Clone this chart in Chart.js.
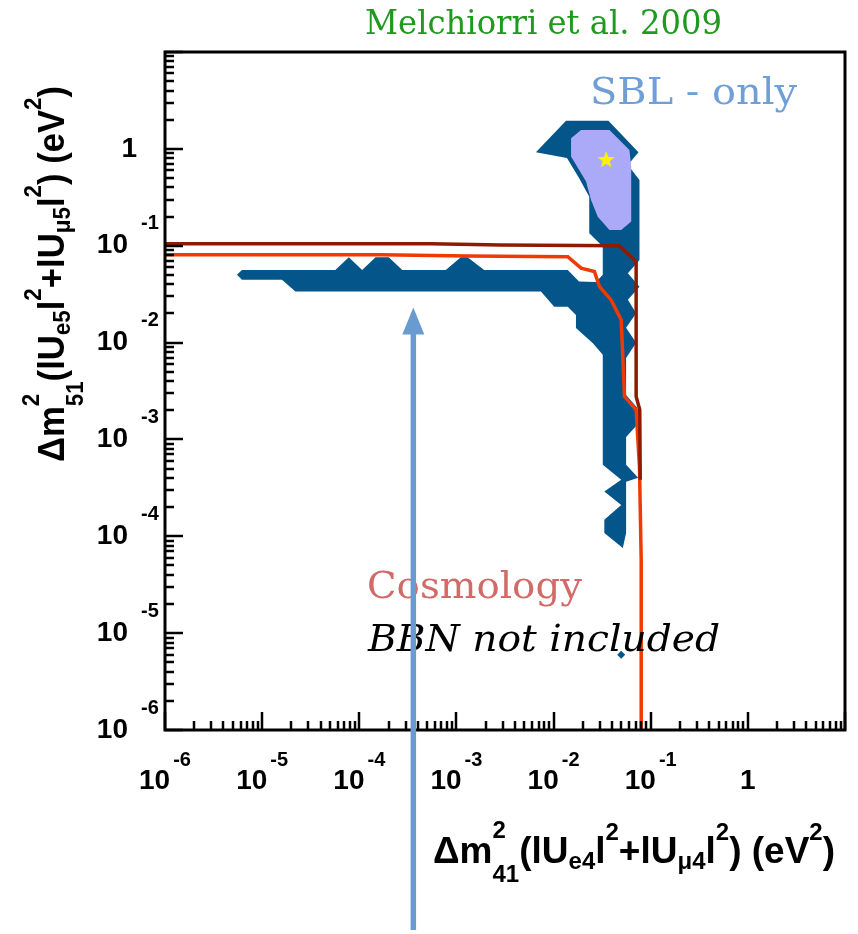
<!DOCTYPE html>
<html>
<head>
<meta charset="utf-8">
<script src="https://cdn.jsdelivr.net/npm/chart.js@4.4.1/dist/chart.umd.min.js"></script>
<style>
  html, body { margin: 0; padding: 0; background: #fff; }
  canvas { display: block; }
</style>
</head>
<body>
<canvas id="chartCanvas" width="858" height="934"></canvas>
<script>
// axis ranges (both log10)
const xRange = [1e-6, 10];
const yRange = [1e-6, 10];

// decade tick labels: [base, exponent]
const xTickValues = [1e-6, 1e-5, 1e-4, 1e-3, 1e-2, 1e-1, 1];
const xTickLabels = [['10', '-6'], ['10', '-5'], ['10', '-4'], ['10', '-3'], ['10', '-2'], ['10', '-1'], ['1', '']];
const yTickValues = [1, 1e-1, 1e-2, 1e-3, 1e-4, 1e-5, 1e-6];
const yTickLabels = [['1', ''], ['10', '-1'], ['10', '-2'], ['10', '-3'], ['10', '-4'], ['10', '-5'], ['10', '-6']];

// SBL-only allowed region (outer, dark blue)
const outerX = [0.01343, 0.0367, 0.0748, 0.0582, 0.0766, 0.0766, 0.0582, 0.0766, 0.0582, 0.0708,
  0.0558, 0.0708, 0.0558, 0.0558, 0.0726, 0.0726, 0.0558, 0.0558, 0.0743, 0.0558,
  0.0558, 0.0516, 0.0333, 0.0333, 0.0497, 0.0333, 0.0497, 0.0321, 0.0321, 0.0254,
  0.0170, 0.0170, 0.0140, 0.01016, 0.00741, 2.2e-5, 1.6e-5, 6.2e-6, 5.5e-6, 6.2e-6,
  5.67e-5, 7.8e-5, 1.07e-4, 1.47e-4, 2.01e-4, 2.77e-4, 7.77e-4, 1.11e-3, 1.30e-3, 1.93e-3,
  0.0140, 0.01828, 0.0274, 0.0321, 0.0321, 0.0233, 0.0233, 0.01828, 0.01374, 0.00658];
const outerY = [1.954, 1.954, 0.922, 0.682, 0.478, 0.0714, 0.0520, 0.0378, 0.0276, 0.0201,
  0.0142, 0.00993, 0.00695, 0.00288, 0.00212, 0.00142, 0.00106, 5.47e-4, 4.02e-4, 3.65e-4,
  1.08e-4, 7.55e-5, 1.08e-4, 1.48e-4, 2.11e-4, 2.90e-4, 3.83e-4, 5.47e-4, 0.00747, 0.00986,
  0.0141, 0.0193, 0.0235, 0.0235, 0.0336, 0.0336, 0.0444, 0.0444, 0.0500, 0.0562,
  0.0562, 0.0761, 0.0562, 0.0761, 0.0761, 0.0562, 0.0562, 0.0761, 0.0761, 0.0562,
  0.0562, 0.0426, 0.0423, 0.0500, 0.0979, 0.1346, 0.321, 0.501, 0.805, 0.922];

// SBL-only inner region (lavender)
const innerX = [0.01514, 0.0192, 0.0376, 0.0604, 0.0630, 0.0630, 0.0497, 0.0376, 0.0285, 0.0243, 0.0216, 0.01514];
const innerY = [1.286, 1.567, 1.567, 0.975, 0.655, 0.1774, 0.1456, 0.1456, 0.1995, 0.297, 0.459, 0.832];

// best fit point and isolated island
const bestFit = [{ x: 0.0348, y: 0.768 }];
const island = [{ x: 0.0497, y: 5.98e-6 }];

// cosmology bounds
const cosmoDarkX = [1e-6, 5.43e-4, 2.86e-3, 0.0473, 0.0708, 0.0708, 0.0771, 0.0780];
const cosmoDarkY = [0.1045, 0.1045, 0.1019, 0.1002, 0.0686, 0.00277, 0.00202, 3.83e-4];
const cosmoRedX = [1e-6, 1.66e-4, 1.30e-3, 0.0140, 0.0192, 0.0263, 0.0297, 0.0391, 0.0497, 0.0537, 0.0708, 0.0766, 0.0798, 0.0798];
const cosmoRedY = [0.0809, 0.0809, 0.0785, 0.0771, 0.0586, 0.0541, 0.0378, 0.0276, 0.01714, 0.00277, 0.00202, 5.25e-4, 5.72e-5, 1e-6];

// arrow
const arrowX = 3.6e-4;
const arrowTipY = 0.023;

function pts(xs, ys) {
  return xs.map((x, i) => ({ x: x, y: ys[i] }));
}

function starImage(r, color) {
  const c = document.createElement('canvas');
  c.width = c.height = 2 * r + 2;
  const g = c.getContext('2d');
  g.fillStyle = color;
  g.beginPath();
  for (let i = 0; i < 10; i++) {
    const a = -Math.PI / 2 + i * Math.PI / 5;
    const rr = i % 2 ? r * 0.42 : r;
    g.lineTo(r + 1 + rr * Math.cos(a), r + 1 + rr * Math.sin(a));
  }
  g.closePath();
  g.fill();
  return c;
}

const SANS = '"Liberation Sans", Arial, sans-serif';
const SERIF = '"DejaVu Serif", serif';

// rich text: segments with size and vertical shift
function richWidth(ctx, segs) {
  let w = 0, pend = 0;
  for (const s of segs) {
    ctx.font = 'bold ' + s.s + 'px ' + SANS;
    const sw = ctx.measureText(s.t).width;
    if (s.hold) pend = Math.max(pend, sw);
    else { w += Math.max(sw, pend); pend = 0; }
  }
  return w;
}
function drawRich(ctx, segs) {
  let cx = 0, pend = 0;
  for (const s of segs) {
    ctx.font = 'bold ' + s.s + 'px ' + SANS;
    ctx.fillText(s.t, cx, s.dy || 0);
    const sw = ctx.measureText(s.t).width;
    if (s.hold) pend = Math.max(pend, sw);
    else { cx += Math.max(sw, pend); pend = 0; }
  }
}
function axisTitle(n) {
  return [
    { t: 'Δm', s: 37 }, { t: '2', s: 24, dy: -25, hold: true }, { t: n + '1', s: 24, dy: 19 },
    { t: '(lU', s: 37 }, { t: 'e' + n, s: 24, dy: 6 }, { t: 'l', s: 37 }, { t: '2', s: 24, dy: -23 },
    { t: '+lU', s: 37 }, { t: 'μ' + n, s: 24, dy: 6 }, { t: 'l', s: 37 }, { t: '2', s: 24, dy: -23 },
    { t: ') (eV', s: 37 }, { t: '2', s: 24, dy: -23 }, { t: ')', s: 37 }
  ];
}

function fitText(ctx, str, left, base, width, font, color) {
  ctx.font = font;
  ctx.fillStyle = color;
  const w = ctx.measureText(str).width;
  ctx.save();
  ctx.translate(left, base);
  ctx.scale(width / w, 1);
  ctx.textAlign = 'left';
  ctx.textBaseline = 'alphabetic';
  ctx.fillText(str, 0, 0);
  ctx.restore();
}

const decorPlugin = {
  id: 'decor',
  beforeDraw(chart) {
    const ctx = chart.ctx;
    ctx.save();
    ctx.fillStyle = '#fff';
    ctx.fillRect(0, 0, chart.width, chart.height);
    ctx.restore();
  },
  afterDatasetsDraw(chart) {
    const ctx = chart.ctx;
    const a = chart.chartArea;
    const xs = chart.scales.x, ys = chart.scales.y;
    ctx.save();

    // ticks
    ctx.strokeStyle = '#000';
    ctx.lineWidth = 2.5;
    for (let e = -6; e <= 1; e++) {
      for (let m = 1; m <= 9; m++) {
        const v = m * Math.pow(10, e);
        const len = m === 1 ? 18 : 9;
        if (v >= xRange[0] && v <= xRange[1]) {
          const px = Math.round(xs.getPixelForValue(v));
          ctx.beginPath(); ctx.moveTo(px, a.bottom); ctx.lineTo(px, a.bottom - len); ctx.stroke();
        }
        if (v >= yRange[0] && v <= yRange[1]) {
          const py = Math.round(ys.getPixelForValue(v));
          ctx.beginPath(); ctx.moveTo(a.left, py); ctx.lineTo(a.left + len, py); ctx.stroke();
        }
      }
    }
    // frame
    ctx.lineWidth = 3;
    ctx.strokeRect(a.left, a.top, a.right - a.left, a.bottom - a.top);

    // tick labels
    ctx.fillStyle = '#000';
    ctx.textBaseline = 'middle';
    xTickValues.forEach((v, i) => {
      const px = xs.getPixelForValue(v);
      const [b, s] = xTickLabels[i];
      ctx.font = 'bold 28px ' + SANS;
      const wb = ctx.measureText(b).width;
      ctx.font = 'bold 20px ' + SANS;
      const wsup = s ? ctx.measureText(s).width + 3 : 0;
      const left = px - (wb + wsup) / 2;
      ctx.textAlign = 'left';
      ctx.font = 'bold 28px ' + SANS;
      ctx.fillText(b, left, a.bottom + 51);
      if (s) {
        ctx.font = 'bold 20px ' + SANS;
        ctx.fillText(s, left + wb + 3, a.bottom + 30);
      }
    });
    yTickValues.forEach((v, i) => {
      const py = ys.getPixelForValue(v);
      const [b, s] = yTickLabels[i];
      ctx.font = 'bold 28px ' + SANS;
      ctx.textAlign = 'right';
      if (s) {
        ctx.fillText(b, a.left - 37, py);
        ctx.font = 'bold 20px ' + SANS;
        ctx.textAlign = 'left';
        ctx.fillText(s, a.left - 24, py - 22);
      } else {
        ctx.fillText(b, a.left - 28, py);
      }
    });

    // axis titles
    ctx.textAlign = 'left';
    ctx.textBaseline = 'alphabetic';
    const xt = axisTitle('4');
    const xw = richWidth(ctx, xt);
    ctx.save();
    ctx.translate(433, 863);
    ctx.scale(402 / xw, 1);
    drawRich(ctx, xt);
    ctx.restore();

    const yt = axisTitle('5');
    const yw = richWidth(ctx, yt);
    ctx.save();
    ctx.translate(64, 462);
    ctx.rotate(-Math.PI / 2);
    ctx.scale(376 / yw, 1);
    drawRich(ctx, yt);
    ctx.restore();

    // annotations
    fitText(ctx, 'Melchiorri et al. 2009', 365, 34, 357, '33px ' + SERIF, '#1f9a1f');
    fitText(ctx, 'SBL - only', 590, 104, 207, '37px ' + SERIF, '#6f9fd6');
    fitText(ctx, 'Cosmology', 367, 598, 215, '37px ' + SERIF, '#d26a68');
    fitText(ctx, 'BBN not included', 368, 651, 352, 'italic 37px ' + SERIF, '#000');

    // arrow
    const ax = xs.getPixelForValue(arrowX);
    const ay = ys.getPixelForValue(arrowTipY);
    ctx.strokeStyle = '#6a9bd0';
    ctx.fillStyle = '#6a9bd0';
    ctx.lineWidth = 5.5;
    ctx.beginPath();
    ctx.moveTo(ax, ay + 20);
    ctx.lineTo(ax, chart.height - 4);
    ctx.stroke();
    ctx.beginPath();
    ctx.moveTo(ax, ay);
    ctx.lineTo(ax - 11, ay + 27);
    ctx.lineTo(ax + 11, ay + 27);
    ctx.closePath();
    ctx.fill();

    ctx.restore();
  }
};

function renderChart() {
  const ctx = document.getElementById('chartCanvas').getContext('2d');
  new Chart(ctx, {
    type: 'scatter',
    data: {
      datasets: [
        {
          label: 'best fit', data: bestFit,
          pointStyle: starImage(9, '#fff200'), pointRadius: 9
        },
        {
          label: 'island', data: island,
          pointStyle: 'rectRot', pointRadius: 4, backgroundColor: '#03558a', borderWidth: 0
        },
        {
          label: 'cosmology (dark)', data: pts(cosmoDarkX, cosmoDarkY),
          showLine: true, borderColor: '#8e1a02', borderWidth: 3.5, pointRadius: 0, fill: false
        },
        {
          label: 'cosmology', data: pts(cosmoRedX, cosmoRedY),
          showLine: true, borderColor: '#ef3a04', borderWidth: 3.5, pointRadius: 0, fill: false
        },
        {
          label: 'SBL inner', data: pts(innerX, innerY),
          showLine: true, borderWidth: 0, pointRadius: 0,
          backgroundColor: '#aaaaf8', fill: 'shape'
        },
        {
          label: 'SBL outer', data: pts(outerX, outerY),
          showLine: true, borderWidth: 0, pointRadius: 0,
          backgroundColor: '#03558a', fill: 'shape'
        }
      ]
    },
    options: {
      responsive: false,
      devicePixelRatio: 1,
      animation: false,
      layout: { padding: { left: 165, right: 13, top: 52, bottom: 204 } },
      plugins: { legend: { display: false }, tooltip: { enabled: false } },
      scales: {
        x: { type: 'logarithmic', min: xRange[0], max: xRange[1], display: false },
        y: { type: 'logarithmic', min: yRange[0], max: yRange[1], display: false }
      }
    },
    plugins: [decorPlugin]
  });
}

window.onload = renderChart;
</script>
</body>
</html>
